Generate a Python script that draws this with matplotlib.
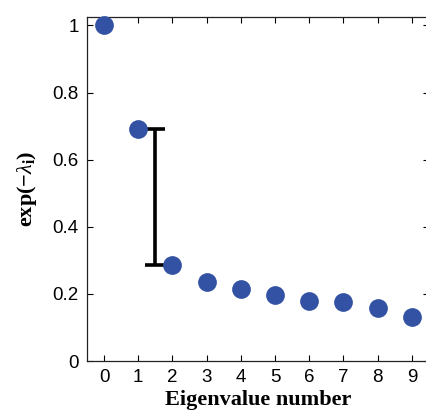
import matplotlib
matplotlib.use("Agg")
import matplotlib.pyplot as plt

eig_index = [0, 1, 2, 3, 4, 5, 6, 7, 8, 9]
eig_values = [1.0, 0.69, 0.287, 0.234, 0.216, 0.198, 0.178, 0.176, 0.159, 0.1325]
gap_x = 1.5
gap_top = 0.69
gap_bottom = 0.287
xtick_labels = ["0", "1", "2", "3", "4", "5", "6", "7", "8", "9"]
ytick_values = [0, 0.2, 0.4, 0.6, 0.8, 1]
ytick_labels = ["0", "0.2", "0.4", "0.6", "0.8", "1"]

plt.rcParams["mathtext.fontset"] = "custom"
plt.rcParams["mathtext.rm"] = "Liberation Serif:bold"
plt.rcParams["mathtext.it"] = "Liberation Serif:italic"
plt.rcParams["mathtext.bf"] = "Liberation Serif:bold"
plt.rcParams["mathtext.default"] = "rm"

fig = plt.figure(figsize=(4.27, 4.12), dpi=100)
W, H = 427, 412
left, right, top, bottom = 87, 429, 17, 361
ax = fig.add_axes([left / W, 1 - bottom / H, (right - left) / W, (bottom - top) / H])

ax.errorbar([gap_x], [(gap_top + gap_bottom) / 2], yerr=[[(gap_top - gap_bottom) / 2], [(gap_top - gap_bottom) / 2]],
            fmt="none", ecolor="black", elinewidth=2.6, capsize=7.5, capthick=2.6, zorder=2)
ax.plot(eig_index, eig_values, "o", color="#3352A3", markersize=13.5, markeredgewidth=0, zorder=3, clip_on=False)

ax.set_xlim(-0.5, 9.5)
ax.set_ylim(0, 1.025)
ax.set_xticks(eig_index)
ax.set_xticklabels(xtick_labels)
ax.set_yticks(ytick_values)
ax.set_yticklabels(ytick_labels)
ax.tick_params(direction="in", length=4, width=0.8, top=True, right=True,
               labelsize=13.5, pad=6, colors="black")
for lab in ax.get_xticklabels() + ax.get_yticklabels():
    lab.set_fontfamily("Liberation Sans")
for s in ax.spines.values():
    s.set_linewidth(0.9)
    s.set_color("#222222")

ax.set_xlabel("Eigenvalue number", fontfamily="Liberation Serif", fontweight="bold", fontsize=16, labelpad=3)
ax.set_ylabel(r"exp$(-\mathit{\lambda}_{i})$", fontfamily="Liberation Serif", fontweight="bold",
              fontsize=16, labelpad=10)

fig.savefig("out.png", dpi=100)
